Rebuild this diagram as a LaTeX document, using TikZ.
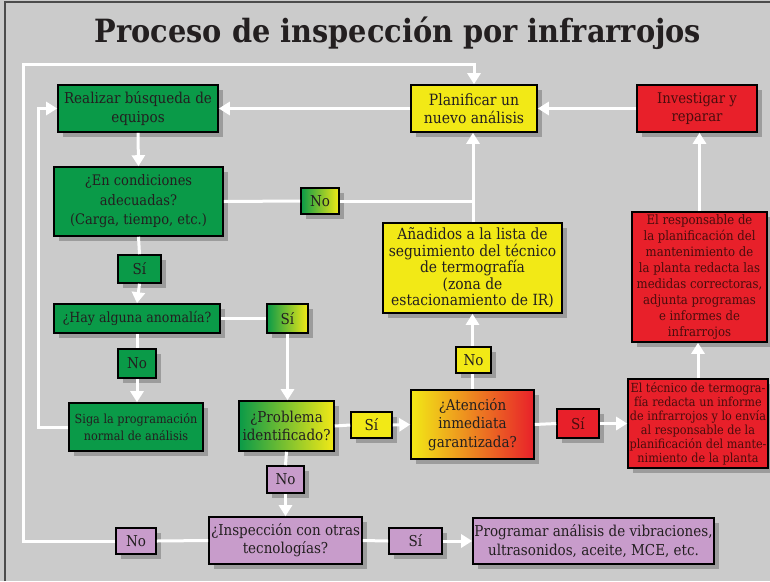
\documentclass[tikz,border=0pt]{standalone}
\usepackage{fontspec}
\setmainfont{DejaVu Serif Condensed}
\usetikzlibrary{arrows.meta,shadows}
\definecolor{bg}{HTML}{CBCBCB}
\definecolor{gr}{HTML}{0A9A48}
\definecolor{ye}{HTML}{F2E916}
\definecolor{rd}{HTML}{E8202A}
\definecolor{pu}{HTML}{C89CCB}
\definecolor{tx}{HTML}{231F20}
\definecolor{rtx}{HTML}{4A0D0D}
\definecolor{shd}{HTML}{9C9C9C}
\tikzset{
  box/.style={draw=black, line width=1.6pt, align=center, inner sep=1pt, text=tx,
    font=\fontsize{15}{18.5}\selectfont,
    drop shadow={shadow xshift=5pt, shadow yshift=-5pt, fill=shd, opacity=1}},
  sz/.style 2 args={minimum width=#1pt, minimum height=#2pt},
  gbox/.style={box, fill=gr},
  ybox/.style={box, fill=ye},
  rbox/.style={box, fill=rd, text=rtx},
  pbox/.style={box, fill=pu},
  gybox/.style={box, left color=gr, right color=ye},
  flow/.style={draw=white, line width=3pt},
  arr/.style={flow, -{Triangle[width=13pt,length=11pt]}},
}
\begin{document}
\begin{tikzpicture}[x=1pt,y=-1pt]
\fill[bg] (0,0) rectangle (770,581);
\useasboundingbox (0,0) rectangle (770,581);
\draw[black!70, line width=2pt] (5,581) -- (5,2) -- (770,2);
\node[font=\fontsize{32}{36}\selectfont\bfseries, text=tx] (title) at (398,33) {Proceso de inspección por infrarrojos};

\node[gbox, sz={160}{47}] (realizar) at (138,108.5) {Realizar búsqueda de\\equipos};
\node[gbox, sz={169}{69}, font=\fontsize{14.5}{19.5}\selectfont] (cond) at (138.5,201.5) {¿En condiciones\\adecuadas?\\(Carga, tiempo, etc.)};
\node[gbox, sz={43}{28}] (si1) at (139.5,269) {Sí};
\node[gbox, sz={166}{29}, font=\fontsize{14}{17}\selectfont] (anom) at (137,318.5) {¿Hay alguna anomalía?};
\node[gybox, sz={41}{29}] (si2) at (287.5,318.5) {Sí};
\node[gbox, sz={38}{29}] (no2) at (137,363.5) {No};
\node[gbox, sz={134}{48}, font=\fontsize{12.5}{17}\selectfont] (siga) at (136,427) {Siga la programación\\normal de análisis};
\node[box, sz={95}{50}, left color=gr, middle color=ye!60!gr, right color=ye] (prob) at (286.5,426) {¿Problema\\identificado?};
\node[ybox, sz={41}{26}] (si3) at (371.5,425) {Sí};
\node[pbox, sz={37}{27}] (no3) at (285.5,479.5) {No};
\node[pbox, sz={153}{47}, font=\fontsize{15}{17.7}\selectfont] (insp) at (285.5,540.5) {¿Inspección con otras\\tecnologías?};
\node[pbox, sz={40}{26}] (no4) at (136,541) {No};
\node[pbox, sz={53}{26}] (si4) at (415.5,541) {Sí};
\node[pbox, sz={241}{46}] (prog) at (593.5,541) {Programar análisis de vibraciones,\\ultrasonidos, aceite, MCE, etc.};
\node[box, sz={123}{69}, left color=ye, middle color=orange, right color=rd] (aten) at (472.5,424.5) {¿Atención\\inmediata\\garantizada?};
\node[ybox, sz={35}{26}] (no5) at (473.5,360) {No};
\node[ybox, sz={179}{90}, font=\fontsize{15.4}{16.6}\selectfont] (anad) at (472.5,268) {Añadidos a la lista de\\seguimiento del técnico\\de termografía\\(zona de\\estacionamiento de IR)};
\node[rbox, sz={42}{29}] (si5) at (578,423.5) {Sí};
\node[rbox, sz={140}{89}, font=\fontsize{12.5}{14}\selectfont] (tec) at (698,423.5) {El técnico de termogra-\\fía redacta un informe\\de infrarrojos y lo envía\\al responsable de la\\planificación del mante-\\nimiento de la planta};
\node[rbox, sz={135}{130}, font=\fontsize{13}{16}\selectfont] (resp) at (699.5,277) {El responsable de\\la planificación del\\mantenimiento de\\la planta redacta las\\medidas correctoras,\\adjunta programas\\e informes de\\infrarrojos};
\node[rbox, sz={120}{47}, font=\fontsize{14.7}{18.5}\selectfont] (inv) at (697,108.5) {Investigar y\\reparar};
\node[ybox, sz={126}{47}, font=\fontsize{15.5}{18.5}\selectfont] (plan) at (474,108.5) {Planificar un\\nuevo análisis};
\node[box, sz={38}{26}, left color=gr, right color=ye] (no1) at (320,201) {No};

\coordinate (j1) at (473,201);
\coordinate (o1) at (23,541);
\coordinate (o2) at (23,64);
\coordinate (i1) at (38,427);

% connectors
\draw[flow] (insp.west) -- (no4.east);
\draw[arr] (no4.west) -- (o1) -- (o2) -| (plan.north);
\draw[arr] (siga.west) -- (i1) |- (realizar.west);
\draw[arr] (plan.west) -- (realizar.east);
\draw[arr] (inv.west) -- (plan.east);
\draw[arr] (realizar.south) -- (cond.north);
\draw[flow] (cond.south) -- (si1.north);
\draw[arr] (si1.south) -- (anom.north);
\draw[flow] (cond.east) -- (no1.west);
\draw[flow] (no1.east) -- (j1);
\draw[arr] (anad.north -| j1) -- (plan.south -| j1);
\draw[flow] (anom.east) -- (si2.west);
\draw[arr] (si2.south) -- (prob.north -| si2.south);
\draw[flow] (anom.south) -- (no2.north);
\draw[arr] (no2.south) -- (siga.north -| no2.south);
\draw[flow] (prob.east) -- (si3.west);
\draw[arr] (si3.east) -- (aten.west);
\draw[flow] (prob.south) -- (no3.north);
\draw[arr] (no3.south) -- (insp.north);
\draw[flow] (insp.east) -- (si4.west);
\draw[arr] (si4.east) -- (prog.west);
\draw[flow] (aten.north) -- (no5.south -| aten.north);
\draw[arr] (no5.north -| aten.north) -- (anad.south);
\draw[flow] (aten.east) -- (si5.west);
\draw[arr] (si5.east) -- (tec.west);
\draw[arr] (tec.north) -- (resp.south -| tec.north);
\draw[arr] (resp.north) -- (inv.south -| resp.north);
\end{tikzpicture}
\end{document}
